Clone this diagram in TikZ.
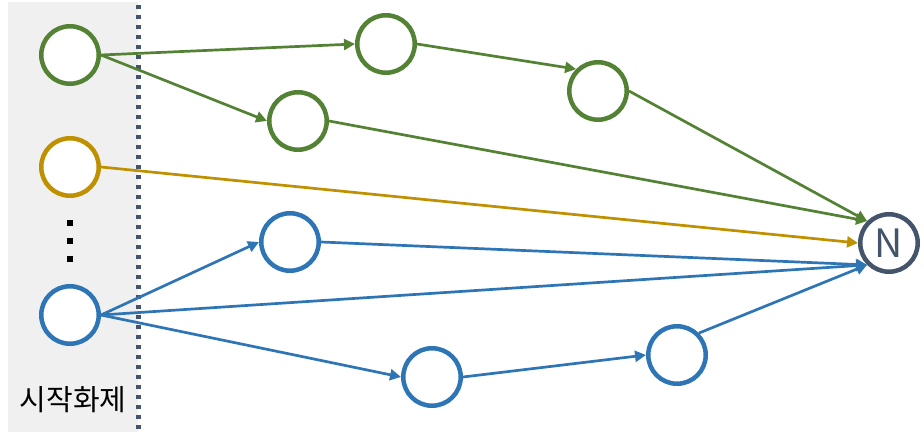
\documentclass[tikz,border=0pt]{standalone}
\usepackage{fontspec}
\setmainfont{Noto Sans CJK KR}
\usetikzlibrary{arrows.meta}
\definecolor{tgreen}{RGB}{84,130,53}
\definecolor{torange}{RGB}{191,144,0}
\definecolor{tblue}{RGB}{46,117,182}
\definecolor{tdark}{RGB}{68,84,106}
\definecolor{panel}{RGB}{240,240,240}
\tikzset{topic/.style={circle,draw,line width=4.5pt,minimum size=57.5pt,inner sep=0pt,fill=white},
         link/.style={line width=2.7pt,-{Triangle[length=11pt,width=11pt]}}}

\begin{document}
\begin{tikzpicture}[x=1pt,y=-1pt]
\useasboundingbox (0,0) rectangle (924,435);
\fill[panel] (8,2) rectangle (138,432);
\draw[tdark,line width=4.5pt,dash pattern=on 4.5pt off 5.5pt] (138.5,5)--(138.5,432);

\node[topic,draw=tgreen] (g1) at (70,55) {};
\node[topic,draw=tgreen] (g2) at (386,44) {};
\node[topic,draw=tgreen] (g3) at (598,91) {};
\node[topic,draw=tgreen] (g4) at (298,121) {};
\node[topic,draw=torange] (o1) at (70,167) {};
\node[topic,draw=tblue] (b1) at (70,315) {};
\node[topic,draw=tblue] (b2) at (290,242) {};
\node[topic,draw=tblue] (b3) at (432,377) {};
\node[topic,draw=tblue] (b4) at (677,355) {};
\node[topic,draw=tdark,text=tdark,font=\fontsize{39}{39}\selectfont] (n) at (889,243) {N};
\node (start) at (73,400) {\fontsize{29}{29}\selectfont 시작화제};
\fill (67,220) rectangle ++(6,6);
\fill (67,238) rectangle ++(6,6);
\fill (67,256) rectangle ++(6,6);

\draw[link,tgreen] (g1.east)--(g2.west);
\draw[link,tgreen] (g1.east)--(g4.west);
\draw[link,tgreen] (g2.east)--(g3.north west);
\draw[link,tgreen] (g3.east)--(n.north west);
\draw[link,tgreen] (g4.east)--(n.north west);
\draw[link,torange] (o1.east)--(n.west);
\draw[link,tblue] (b1.east)--(b2.west);
\draw[link,tblue] (b1.east)--(n.south west);
\draw[link,tblue] (b1.east)--(b3.west);
\draw[link,tblue] (b2.east)--(n.south west);
\draw[link,tblue] (b3.east)--(b4.west);
\draw[link,tblue] (b4.north east)--(n.south west);

\end{tikzpicture}
\end{document}
